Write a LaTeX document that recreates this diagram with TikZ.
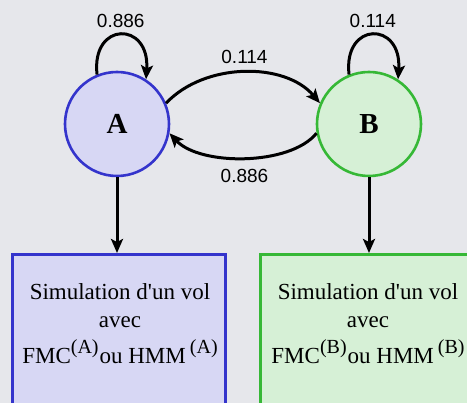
\documentclass[tikz,border=0pt]{standalone}
\usepackage{fontspec}
\setmainfont{Liberation Serif}
\newfontfamily\labelfont{Liberation Sans}
\usetikzlibrary{arrows.meta}
\definecolor{bgc}{HTML}{E6E7EB}
\definecolor{afill}{HTML}{D7D7F4}
\definecolor{aline}{HTML}{3434CC}
\definecolor{bfill}{HTML}{D6F0D6}
\definecolor{bline}{HTML}{36B836}
\newcommand\supx[1]{\raisebox{10pt}{\fontsize{20}{20}\selectfont #1}}
\begin{document}
\begin{tikzpicture}[x=1pt,y=-1pt,
  statenode/.style={circle,minimum size=104pt,inner sep=0pt,line width=2.6pt,font=\fontsize{29}{29}\selectfont\bfseries},
  boxnode/.style={rectangle,minimum width=213pt,minimum height=220pt,line width=3pt,anchor=north},
  boxtext/.style={align=center,font=\fontsize{23}{28}\selectfont},
  conn/.style={line width=3pt,-{Stealth[length=14pt,width=12pt,inset=3pt]}},
  lbl/.style={font=\labelfont\fontsize{19}{19}\selectfont,inner sep=0pt}]
\useasboundingbox (0,0) rectangle (467,403);
\fill[bgc] (0,0) rectangle (467,403);
\clip (0,0) rectangle (467,403);
\node[statenode,fill=afill,draw=aline] (A) at (117,124) {A};
\node[statenode,fill=bfill,draw=bline] (B) at (369,124) {B};
\node[boxnode,fill=afill,draw=aline] (bA) at (118.5,253) {};
\node[boxnode,fill=bfill,draw=bline] (bB) at (366.5,253) {};
\node[boxtext] (tA) at (120,324) {Simulation d\textquotesingle un vol\\ avec\\[8pt] FMC\supx{(A)}\hspace{1pt}ou HMM\hspace{4pt}\supx{(A)}};
\node[boxtext] (tB) at (368,324) {Simulation d\textquotesingle un vol\\ avec\\[8pt] FMC\supx{(B)}\hspace{1pt}ou HMM\hspace{4pt}\supx{(B)}};
\draw[conn] (A.112) .. controls (91,21) and (150,21) .. node[lbl,above=6pt] (lAA) {0.886} (A.57);
\draw[conn] (B.112) .. controls (343,21) and (402,21) .. node[lbl,above=6pt] (lBB) {0.114} (B.57);
\draw[conn] (A.23) .. controls (205,62) and (285,62) .. node[lbl,above=7pt] (lAB) {0.114} (B.157);
\draw[conn] (B.190) .. controls (290,166) and (200,166) .. node[lbl,below=10pt] (lBA) {0.886} (A.350);
\draw[conn] (A.south) -- (A.south |- bA.north);
\draw[conn] (B.south) -- (B.south |- bB.north);
\end{tikzpicture}
\end{document}
